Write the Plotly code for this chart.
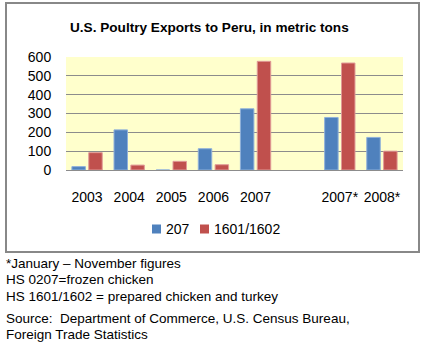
import plotly.graph_objects as go

categories = ["2003", "2004", "2005", "2006", "2007", " ", "2007*", "2008*"]
frozen_207 = [18, 213, 0, 113, 325, None, 279, 173]
prepared_1601 = [92, 26, 46, 28, 577, None, 568, 100]
y_ticks = [0, 100, 200, 300, 400, 500, 600]
series_names = ["207", "1601/1602"]
series_colors = ["#4F81BD", "#C0504D"]

title_text = "U.S. Poultry Exports to Peru, in metric tons"
notes = [
    "*January \u2013 November figures",
    "HS 0207=frozen chicken",
    "HS 1601/1602 = prepared chicken and turkey",
    "Source:  Department of Commerce, U.S. Census Bureau,",
    "Foreign Trade Statistics",
]
note_y_px = [263, 279, 296, 318, 334]

FONT = "Liberation Sans, Arial, sans-serif"
W, H = 422, 343
L, R, T, B = 66, 403, 57, 170
pw, ph = R - L, B - T


def px_x(x):
    return (x - L) / pw


def px_y(y):
    return (B - y) / ph


fig = go.Figure()
fig.add_trace(go.Bar(x=categories, y=frozen_207, name=series_names[0],
                     marker=dict(color=series_colors[0], line=dict(color="#8FB0DA", width=1))))
fig.add_trace(go.Bar(x=categories, y=prepared_1601, name=series_names[1],
                     marker=dict(color=series_colors[1], line=dict(color="#E09A98", width=1))))

fig.update_layout(
    width=W, height=H,
    margin=dict(l=L, r=W - R, t=T, b=H - B, pad=0),
    paper_bgcolor="white",
    plot_bgcolor="#FFFFCC",
    barmode="group", bargap=0.2, bargroupgap=0.2,
    font=dict(family=FONT, size=14, color="black"),
    showlegend=False,
)
fig.update_xaxes(type="category", showgrid=False, showline=False, zeroline=False,
                 ticks="outside", ticklen=14, tickcolor="rgba(0,0,0,0)",
                 tickfont=dict(size=14), fixedrange=True)
fig.update_yaxes(range=[0, 600], tickvals=y_ticks, showgrid=True, gridcolor="#8C8C8C", gridwidth=1,
                 zeroline=True, zerolinecolor="#8C8C8C", zerolinewidth=1, showline=False,
                 ticks="outside", ticklen=11, tickcolor="rgba(0,0,0,0)",
                 tickfont=dict(size=14))

shapes = [dict(type="rect", xref="paper", yref="paper",
               x0=px_x(6), x1=px_x(419), y0=px_y(252), y1=px_y(3),
               line=dict(color="#888888", width=2), fillcolor="rgba(0,0,0,0)", layer="below")]

# manual legend (key squares + labels)
legend_x_px = [152, 200]
for name, color, lx in zip(series_names, series_colors, legend_x_px):
    shapes.append(dict(type="rect", xref="paper", yref="paper",
                       x0=px_x(lx), x1=px_x(lx + 9), y0=px_y(233.5), y1=px_y(224.5),
                       line=dict(width=0), fillcolor=color))
    fig.add_annotation(text=name, xref="paper", yref="paper", x=px_x(lx + 12), y=px_y(229),
                       xanchor="left", yanchor="middle", showarrow=False,
                       font=dict(size=14, family=FONT))
fig.update_layout(shapes=shapes)

fig.add_annotation(text="<b>" + title_text + "</b>", xref="paper", yref="paper",
                   x=px_x(209), y=px_y(27), xanchor="center", yanchor="middle",
                   showarrow=False, font=dict(size=13.6, family=FONT))
for txt, yp in zip(notes, note_y_px):
    fig.add_annotation(text=txt, xref="paper", yref="paper", x=px_x(4), y=px_y(yp),
                       xanchor="left", yanchor="middle", showarrow=False,
                       font=dict(size=13.5, family=FONT))

fig.write_html("out.html")
